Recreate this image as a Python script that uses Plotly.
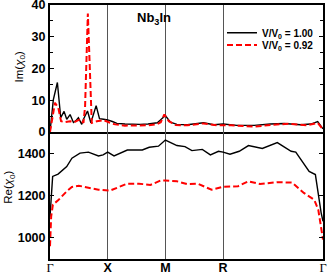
import plotly.graph_objects as go
from plotly.subplots import make_subplots

# k-path tick positions (units of 2pi/a): Gamma, X, M, R, Gamma
kpath_ticks = [0, 0.5, 1.0, 1.5, 2.366]
kpath_labels = ["Γ", "X", "M", "R", "Γ"]

im_ticks = [0, 10, 20, 30, 40]
re_ticks = [1000, 1200, 1400]

# Im(chi0), V/V0 = 1.00
im_x_100 = [0, 0.029, 0.064, 0.093, 0.122, 0.145, 0.174, 0.203, 0.23, 0.246, 0.275, 0.29, 0.325,
            0.354, 0.40, 0.429, 0.464, 0.5, 0.54, 0.58, 0.65, 0.72, 0.78, 0.85, 0.93, 0.957, 1.0,
            1.043, 1.10, 1.19, 1.26, 1.33, 1.42, 1.5, 1.62, 1.77, 1.91, 2.03, 2.17, 2.26, 2.32,
            2.35, 2.366]
im_y_100 = [0, 10.2, 15.6, 4.5, 6.5, 4.0, 5.5, 3.0, 3.8, 4.5, 2.4, 4.0, 6.6,
            2.9, 8.3, 4.2, 4.0, 3.8, 3.3, 2.7, 2.5, 2.4, 2.4, 2.5, 2.9, 3.75, 5.2,
            3.1, 2.4, 2.3, 2.6, 2.9, 2.3, 2.5, 2.1, 2.1, 2.5, 2.7, 2.3, 2.5, 3.3,
            1.7, 1.0]

# Im(chi0), V/V0 = 0.92
im_x_092 = [0, 0.043, 0.072, 0.096, 0.13, 0.174, 0.21, 0.26, 0.29, 0.304, 0.328, 0.35, 0.362,
            0.406, 0.464, 0.52, 0.565, 0.65, 0.75, 0.85, 0.93, 0.96, 0.991, 1.03, 1.09, 1.19,
            1.33, 1.45, 1.57, 1.77, 1.91, 2.06, 2.23, 2.32, 2.366]
im_y_092 = [0, 9.2, 7.6, 3.4, 3.1, 3.4, 3.1, 4.0, 2.9, 8.0, 37.3, 10.0, 2.9,
            3.4, 3.75, 2.9, 2.4, 2.0, 2.0, 2.1, 2.5, 3.1, 5.5, 3.4, 2.2, 2.1,
            2.7, 2.1, 2.1, 1.7, 2.2, 2.6, 2.1, 2.9, 0.8]

# Re(chi0), V/V0 = 1.00
re_x_100 = [0, 0.01, 0.023, 0.07, 0.145, 0.19, 0.26, 0.333, 0.42, 0.46, 0.5, 0.555, 0.61, 0.67,
            0.8, 0.86, 0.94, 0.99, 1.0, 1.1, 1.17, 1.23, 1.32, 1.39, 1.46, 1.5, 1.56, 1.64,
            1.72, 1.84, 1.97, 2.09, 2.13, 2.246, 2.30, 2.35, 2.366]
re_y_100 = [1100, 1200, 1290, 1301, 1337, 1376, 1400, 1405, 1387, 1392, 1405, 1387, 1400, 1415,
            1415, 1428, 1433, 1459, 1462, 1436, 1431, 1412, 1418, 1392, 1409, 1405, 1395, 1409,
            1436, 1422, 1450, 1409, 1405, 1314, 1299, 1118, 1078]

# Re(chi0), V/V0 = 0.92
re_x_092 = [0, 0.01, 0.025, 0.07, 0.145, 0.19, 0.25, 0.32, 0.42, 0.52, 0.56, 0.67, 0.77, 0.87,
            0.96, 1.0, 1.1, 1.19, 1.28, 1.40, 1.5, 1.63, 1.72, 1.82, 1.97, 2.1, 2.2, 2.29,
            2.325, 2.366]
re_y_092 = [960, 1100, 1157, 1177, 1220, 1240, 1246, 1237, 1227, 1223, 1232, 1256, 1256, 1250,
            1271, 1271, 1267, 1254, 1256, 1227, 1241, 1244, 1267, 1254, 1263, 1261, 1212, 1180,
            1133, 992]

series_names = ["<b>V/V<sub>0</sub> = 1.00</b>", "<b>V/V<sub>0</sub> = 0.92</b>"]
y_titles = ["Im(<i>χ</i><sub>0</sub>)", "Re(<i>χ</i><sub>0</sub>)"]

fig = make_subplots(rows=2, cols=1, shared_xaxes=False, vertical_spacing=0)

black = dict(color="black", width=1.4)
red = dict(color="#ff0000", width=2, dash="6px,3px")

fig.add_trace(go.Scatter(x=im_x_100, y=im_y_100, mode="lines", line=black,
                         name=series_names[0], legendgroup="a", legend="legend"), row=1, col=1)
fig.add_trace(go.Scatter(x=im_x_092, y=im_y_092, mode="lines", line=red,
                         name=series_names[1], legendgroup="b", legend="legend2"), row=1, col=1)
fig.add_trace(go.Scatter(x=re_x_100, y=re_y_100, mode="lines", line=black,
                         showlegend=False, legendgroup="a"), row=2, col=1)
fig.add_trace(go.Scatter(x=re_x_092, y=re_y_092, mode="lines", line=red,
                         showlegend=False, legendgroup="b"), row=2, col=1)

tickfont = dict(family="Liberation Sans", size=12.5, color="black", weight="bold")
tick_text = []
for lab in kpath_labels:
    if lab == "Γ":
        tick_text.append("<span style='font-family:Liberation Serif;font-weight:normal'>Γ</span>")
    else:
        tick_text.append("<b>" + lab + "</b>")

xcommon = dict(range=[0, kpath_ticks[-1]], tickmode="array", tickvals=kpath_ticks,
               showline=True, linecolor="black", linewidth=2, automargin=False,
               showgrid=True, gridcolor="#555", gridwidth=1, zeroline=False, ticks="",
               ticklabeloverflow="allow")
fig.update_xaxes(**xcommon, mirror=True, showticklabels=False, row=1, col=1)
fig.update_xaxes(**xcommon, mirror=False, ticktext=tick_text, showticklabels=True,
                 tickfont=tickfont, ticklabelstandoff=-4, row=2, col=1)

ycommon = dict(showline=True, linecolor="black", linewidth=2, mirror="allticks",
               ticks="inside", ticklen=4, tickcolor="black", tickwidth=1, automargin=False,
               showgrid=False, zeroline=False, tickfont=tickfont, tickmode="array",
               ticklabeloverflow="allow")
fig.update_yaxes(**ycommon, range=[0, 40], tickvals=im_ticks,
                 minor=dict(dtick=5, ticks="inside", ticklen=3, tickcolor="black"),
                 row=1, col=1)
fig.update_yaxes(**ycommon, range=[900, 1500], tickvals=re_ticks, row=2, col=1)

title_font = dict(family="Liberation Sans", size=11.5, color="black")
fig.add_annotation(text=y_titles[0], xref="paper", yref="paper", x=-0.11, y=0.758,
                   xanchor="center", yanchor="middle", textangle=-90, showarrow=False,
                   font=title_font)
fig.add_annotation(text=y_titles[1], xref="paper", yref="paper", x=-0.148, y=0.283,
                   xanchor="center", yanchor="middle", textangle=-90, showarrow=False,
                   font=title_font)

fig.add_annotation(text="<b>Nb<sub>3</sub>In</b>", xref="paper", yref="paper",
                   x=0.311, y=0.99, showarrow=False,
                   font=dict(family="Liberation Sans", size=13, color="black"))

legend_style = dict(xanchor="left", yanchor="middle", bgcolor="rgba(0,0,0,0)", borderwidth=0,
                    font=dict(family="Liberation Sans", size=10, color="black"),
                    itemwidth=30)

fig.update_layout(
    width=327, height=273,
    margin=dict(l=50, r=4, t=5, b=14, autoexpand=False),
    paper_bgcolor="white", plot_bgcolor="white",
    showlegend=True,
    legend=dict(x=0.63, y=0.891, **legend_style),
    legend2=dict(x=0.63, y=0.843, **legend_style),
)

fig.write_html("out.html", config={"displayModeBar": False},
               post_script="document.body.style.margin='0';")
